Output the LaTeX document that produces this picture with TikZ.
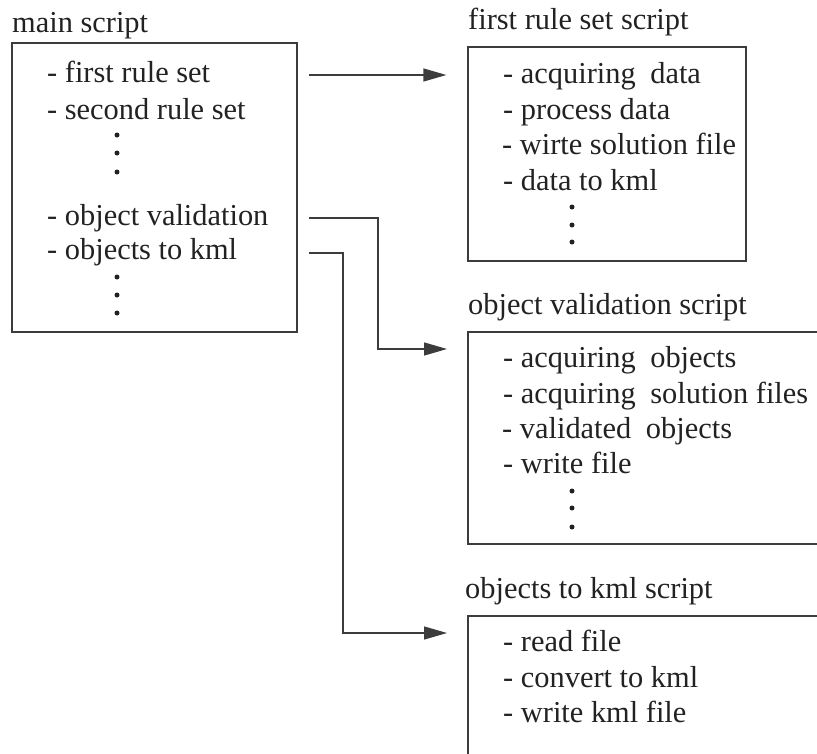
\documentclass[tikz,border=0pt]{standalone}
\usepackage{fontspec}
\setmainfont{Liberation Serif}
\usetikzlibrary{arrows.meta}
\definecolor{ln}{HTML}{3C3C3C}
\definecolor{tx}{HTML}{222222}
\tikzset{
  txt/.style={anchor=base west, inner sep=0pt, text=tx, font=\fontsize{30.4}{36}\selectfont},
  box/.style={draw=ln, line width=1.3pt, inner sep=0pt, rectangle},
  conn/.style={draw=ln, line width=1.3pt, -{Triangle[length=23pt,width=13pt]}},
  vdot/.style={circle, fill=tx, inner sep=0pt, minimum size=5pt}
}
\newcommand{\dsp}{\hspace{7pt} }
\begin{document}
\begin{tikzpicture}[x=1pt,y=-1pt]
\useasboundingbox (0,0) rectangle (817,753);
\clip (0,0) rectangle (817,753);

% main box
\node[box, minimum width=285pt, minimum height=289pt] (mb) at (154.5,187.5) {};
\node[txt] (mt) at (12,32) {main script};
\node[txt] (m1) at (47,82.7) {- first rule set};
\node[txt] (m2) at (47,119) {- second rule set};
\node[vdot] (md1) at (117,135) {};
\node[vdot] (md2) at (117,153) {};
\node[vdot] (md3) at (117,172) {};
\node[txt] (m3) at (47,225) {- object validation};
\node[txt] (m4) at (47,259) {- objects to kml};
\node[vdot] (md4) at (117,277) {};
\node[vdot] (md5) at (117,295) {};
\node[vdot] (md6) at (117,313) {};

% first rule set box
\node[box, minimum width=278pt, minimum height=214pt] (b1) at (607,154) {};
\node[txt] (t1) at (468,29) {first rule set script};
\node[txt] (a1) at (503,83) {- acquiring\dsp data};
\node[txt] (a2) at (503,119) {- process data};
\node[txt] (a3) at (502,154) {- wirte solution file};
\node[txt] (a4) at (503,190) {- data to kml};
\node[vdot] (ad1) at (572,207) {};
\node[vdot] (ad2) at (572,225) {};
\node[vdot] (ad3) at (572,242) {};

% object validation box
\node[box, minimum width=372pt, minimum height=212pt] (b2) at (654,438) {};
\node[txt] (t2) at (468,314) {object validation script};
\node[txt] (v1) at (503,367) {- acquiring\dsp objects};
\node[txt] (v2) at (503,403) {- acquiring\dsp solution files};
\node[txt] (v3) at (502,438) {- validated\dsp objects};
\node[txt] (v4) at (503,473) {- write file};
\node[vdot] (vd1) at (572,491) {};
\node[vdot] (vd2) at (572,508) {};
\node[vdot] (vd3) at (572,527) {};

% objects to kml box
\node[box, minimum width=372pt, minimum height=170pt] (b3) at (654,701) {};
\node[txt] (t3) at (465,598) {objects to kml script};
\node[txt] (k1) at (503,651) {- read file};
\node[txt] (k2) at (503,687) {- convert to kml};
\node[txt] (k3) at (503,722) {- write kml file};

% connectors
\coordinate (s1) at (309,75);
\coordinate (s2) at (309,218);
\coordinate (s3) at (309,253);
\coordinate (e1) at ([xshift=-21pt]b1.west |- s1);
\coordinate (e2) at (447,349);
\coordinate (e3) at (447,633);
\coordinate (c2) at (378,349);
\coordinate (c3) at (343,633);
\draw[conn] (s1) -- (e1);
\draw[conn] (s2) -| (c2) -- (e2);
\draw[conn] (s3) -| (c3) -- (e3);
\end{tikzpicture}
\end{document}
